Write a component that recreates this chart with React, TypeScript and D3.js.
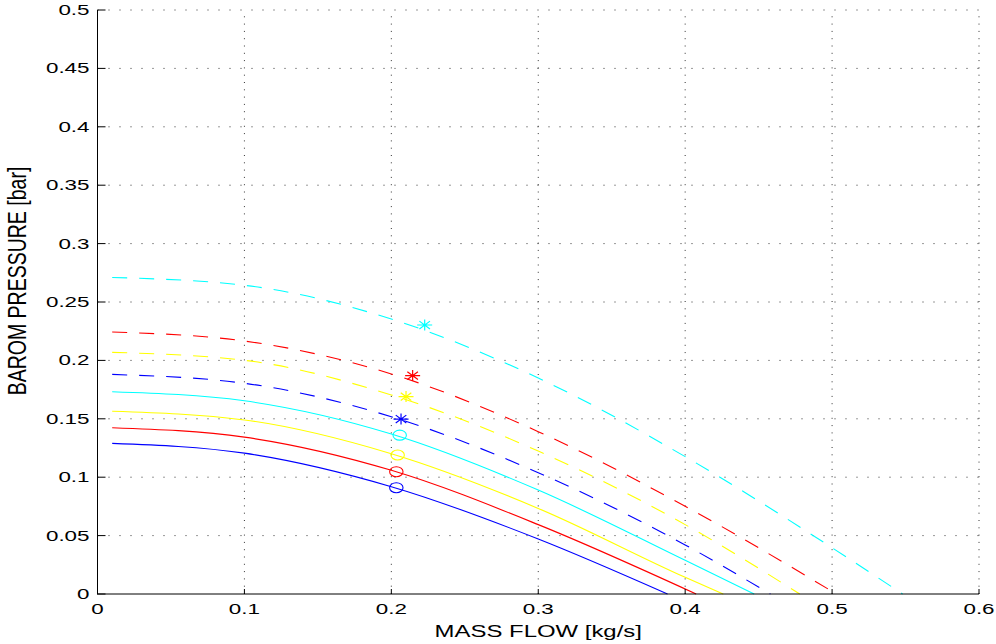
import React from "react";
import { scaleLinear, line, curveMonotoneX, range } from "d3";

// mass flow grid (kg/s) where pressures were read
const flowGrid = [0.01, 0.1, 0.2, 0.3, 0.4, 0.5];

// barometric pressure (bar) on the grid, per curve
const solidBlue = [0.129, 0.1206, 0.0919, 0.0471];
const solidRed = [0.1424, 0.1343, 0.1059, 0.0594];
const solidYellow = [0.1564, 0.149, 0.1201, 0.0733, 0.0143];
const solidCyan = [0.1732, 0.1654, 0.137, 0.089, 0.0288];
const dashBlue = [0.188, 0.1804, 0.1518, 0.1039, 0.042];
const dashYellow = [0.2069, 0.2001, 0.1704, 0.1224, 0.0594];
const dashRed = [0.2243, 0.2166, 0.1884, 0.139, 0.0751];
const dashCyan = [0.271, 0.2643, 0.2354, 0.1849, 0.1176, 0.0396];

// flow where each curve reaches zero pressure
const zeroFlow = [0.388, 0.4075, 0.426, 0.447, 0.458, 0.478, 0.503, 0.548];

// operating points
const circleFlow = [0.2034, 0.2034, 0.2043, 0.2057];
const circlePress = [0.091, 0.1047, 0.119, 0.136];
const starFlow = [0.2066, 0.21, 0.2145, 0.2227];
const starPress = [0.1498, 0.169, 0.187, 0.2303];

const xTicks = [0, 0.1, 0.2, 0.3, 0.4, 0.5, 0.6];
const yTicks = range(0, 11).map((i) => +(i * 0.05).toFixed(2));

const curves = [
  { vals: solidBlue, color: "#0000ff", dashed: false },
  { vals: solidRed, color: "#ff0000", dashed: false },
  { vals: solidYellow, color: "#ffff00", dashed: false },
  { vals: solidCyan, color: "#00ffff", dashed: false },
  { vals: dashBlue, color: "#0000ff", dashed: true },
  { vals: dashYellow, color: "#ffff00", dashed: true },
  { vals: dashRed, color: "#ff0000", dashed: true },
  { vals: dashCyan, color: "#00ffff", dashed: true },
];
const markerColors = ["#0000ff", "#ff0000", "#ffff00", "#00ffff"];
const starColors = ["#0000ff", "#ffff00", "#ff0000", "#00ffff"];

export default function App() {
  const x = scaleLinear().domain([0, 0.6]).range([97.5, 979]);
  const y = scaleLinear().domain([0, 0.5]).range([594, 10]);
  const font = "'Liberation Sans', Arial, Helvetica, sans-serif";

  const lineGen = line<[number, number]>()
    .x((d) => x(d[0]))
    .y((d) => y(d[1]))
    .curve(curveMonotoneX);

  const starPath = (cx: number, cy: number) => {
    const a = 7.5, b = 5.5, da = 5.3, db = 3.9;
    return `M${cx - a},${cy}L${cx + a},${cy}M${cx},${cy - b}L${cx},${cy + b}` +
      `M${cx - da},${cy - db}L${cx + da},${cy + db}M${cx - da},${cy + db}L${cx + da},${cy - db}`;
  };

  return (
    <svg width={996} height={644} style={{ position: "absolute", left: 0, top: 0, background: "#fff" }}>
      {/* grid */}
      <g stroke="#333" strokeWidth={1}>
        {yTicks.filter((t) => t > 0).map((t) => (
          <line key={"gy" + t} x1={x(0)} x2={x(0.6)} y1={y(t)} y2={y(t)} strokeDasharray="1,10" />
        ))}
        {xTicks.filter((t) => t > 0).map((t) => (
          <line key={"gx" + t} x1={x(t)} x2={x(t)} y1={y(0)} y2={y(0.5)} strokeDasharray="1,6.3" />
        ))}
      </g>

      {/* curves */}
      {curves.map((c, i) => {
        const pts: [number, number][] = c.vals.map((v, j) => [flowGrid[j], v]);
        pts.push([zeroFlow[i], 0]);
        return (
          <path key={"c" + i} d={lineGen(pts) || ""} fill="none" stroke={c.color}
            strokeWidth={1.1} strokeDasharray={c.dashed ? "15,12" : undefined} />
        );
      })}

      {/* markers */}
      {circleFlow.map((f, i) => (
        <ellipse key={"o" + i} cx={x(f)} cy={y(circlePress[i])} rx={6.7} ry={5}
          fill="none" stroke={markerColors[i]} strokeWidth={1.1} />
      ))}
      {starFlow.map((f, i) => (
        <path key={"s" + i} d={starPath(x(f), y(starPress[i]))} stroke={starColors[i]} strokeWidth={1.2} fill="none" />
      ))}

      {/* axes */}
      <g stroke="#000" strokeWidth={1}>
        <line x1={x(0)} x2={x(0)} y1={y(0) + 0.5} y2={y(0.5)} />
        <line x1={x(0)} x2={x(0.6)} y1={y(0)} y2={y(0)} />
        {yTicks.map((t) => (
          <line key={"ty" + t} x1={x(0)} x2={x(0) + 8} y1={y(t)} y2={y(t)} />
        ))}
        {xTicks.map((t) => (
          <line key={"tx" + t} x1={x(t)} x2={x(t)} y1={y(0)} y2={y(0) - 5} />
        ))}
      </g>

      {/* tick labels */}
      {yTicks.map((t) => (
        <g key={"ly" + t} transform={`translate(${x(0) - 8},${y(t) + 5}) scale(1.6,1)`}>
          <text textAnchor="end" fontFamily={font} fontSize={14} fill="#000">{String(t)}</text>
        </g>
      ))}
      {xTicks.map((t) => (
        <g key={"lx" + t} transform={`translate(${x(t)},${614}) scale(1.6,1)`}>
          <text textAnchor="middle" fontFamily={font} fontSize={14} fill="#000">{String(t)}</text>
        </g>
      ))}

      {/* axis titles */}
      <g transform={`translate(${(x(0) + x(0.6)) / 2},637) scale(1.45,1)`}>
        <text textAnchor="middle" fontFamily={font} fontSize={16.5} fill="#000">MASS FLOW [kg/s]</text>
      </g>
      <g transform={`translate(26,281) rotate(-90) scale(1,1.3)`}>
        <text textAnchor="middle" fontFamily={font} fontSize={19.5} fill="#000">BAROM PRESSURE [bar]</text>
      </g>
    </svg>
  );
}
